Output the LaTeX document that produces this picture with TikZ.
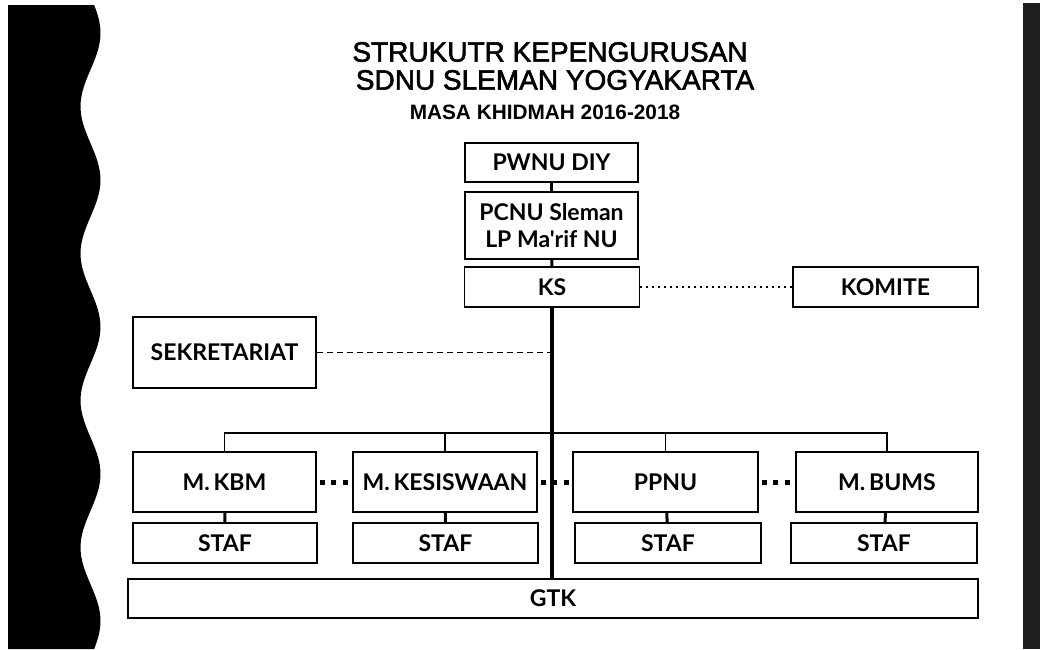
\documentclass[tikz,border=0pt]{standalone}
\usepackage{fontspec}
\setmainfont{Liberation Sans}
\newfontfamily\titlefont[FakeBold=2]{Liberation Sans}
\newfontfamily\boxfont{Lato}
\usetikzlibrary{positioning, calc}

\begin{document}
\begin{tikzpicture}[x=1pt, y=-1pt,
        heading/.style={draw=none, align=center, inner sep=0pt},
        unit/.style={rectangle, draw, line width=1.8pt, inner sep=0pt, minimum width=183pt, minimum height=60pt, align=center, font=\boxfont\bfseries\fontsize{23}{27}\selectfont},
        staff/.style={unit, minimum height=40pt},
        link/.style={line width=3pt},
        spine/.style={line width=3.5pt},
        feed/.style={line width=1.4pt},
        dashlink/.style={line width=1.2pt, dash pattern=on 6pt off 4pt},
        dotlink/.style={line width=1.2pt, dash pattern=on 2pt off 4pt},
        heavydots/.style={line width=5pt, dash pattern=on 5pt off 6.5pt}
    ]
        \useasboundingbox (0,0) rectangle (1040,649);

        % Border strips
        \fill[black] (8,5) -- (8,649) -- plot[domain=649:5, samples=120] ({90.5+10*cos(2.449*(\x-33))}, \x) -- cycle;
        \fill[black!88] (1023,3) rectangle (1040,649);

        % Headers
        \node[heading, font=\titlefont\fontsize{28}{30}\selectfont] (title1) at (550,52) {STRUKUTR KEPENGURUSAN};
        \node[heading, font=\titlefont\fontsize{28}{30}\selectfont] (title2) at (555,80) {SDNU SLEMAN YOGYAKARTA};
        \node[heading, font=\bfseries\fontsize{20.8}{22}\selectfont] (title3) at (545,112) {MASA KHIDMAH 2016-2018};

        % Top of the chain
        \node[unit, minimum width=173pt, minimum height=39pt] (pwnu) at (551.5,162.5) {PWNU DIY};
        \node[unit, minimum width=173pt, minimum height=67pt] (pcnu) at (551.5,225.5) {PCNU Sleman\\LP Ma'rif NU};
        \node[unit, minimum width=175pt, minimum height=40pt] (ks) at (552,287) {KS};
        \node[unit, minimum width=185pt, minimum height=40pt] (komite) at (885.5,287) {KOMITE};
        \node[unit, minimum height=71pt] (sekre) at (224.5,352.5) {SEKRETARIAT};

        % Managers
        \node[unit] (kbm) at (224.5,482) {M.\,KBM};
        \node[unit, minimum width=184pt] (kes) at (445,482) {M.\,KESISWAAN};
        \node[unit, minimum width=185pt] (ppnu) at (665.5,482) {PPNU};
        \node[unit, minimum width=182pt] (bums) at (887,482) {M.\,BUMS};

        % Staff
        \node[staff, minimum width=184pt] (staf1) at (225,543) {STAF};
        \node[staff, minimum width=185pt] (staf2) at (445.5,543) {STAF};
        \node[staff, minimum width=186pt] (staf3) at (668,543) {STAF};
        \node[staff, minimum width=186pt] (staf4) at (884,543) {STAF};

        \node[staff, minimum width=850pt, minimum height=39pt] (gtk) at (553,598.5) {GTK};

        % Lines
        \draw[link] (pwnu) -- (pcnu);
        \draw[link] (pcnu) -- (ks);
        \draw[spine] (ks.south) -- (ks.south |- gtk.north);

        \draw[dotlink] (ks.east) -- (komite.west);
        \draw[dashlink] (sekre.east) -- (sekre.east -| ks.south);

        \coordinate (bar) at (0,433);
        \draw[feed] (kbm.north) -- (kbm.north |- bar) -| (bums.north);
        \draw[feed] (kes.north) -- (kes.north |- bar);
        \draw[feed] (ppnu.north) -- (ppnu.north |- bar);

        \draw[link] (kbm) -- (staf1);
        \draw[link] (kes) -- (staf2);
        \draw[link] (ppnu) -- (staf3);
        \draw[link] (bums) -- (staf4);

        \draw[heavydots] (kbm.east) ++(3,0) -- (kes.west);
        \draw[heavydots] (kes.east) ++(3,0) -- (ppnu.west);
        \draw[heavydots] (ppnu.east) ++(3,0) -- (bums.west);
    \end{tikzpicture}
\end{document}
